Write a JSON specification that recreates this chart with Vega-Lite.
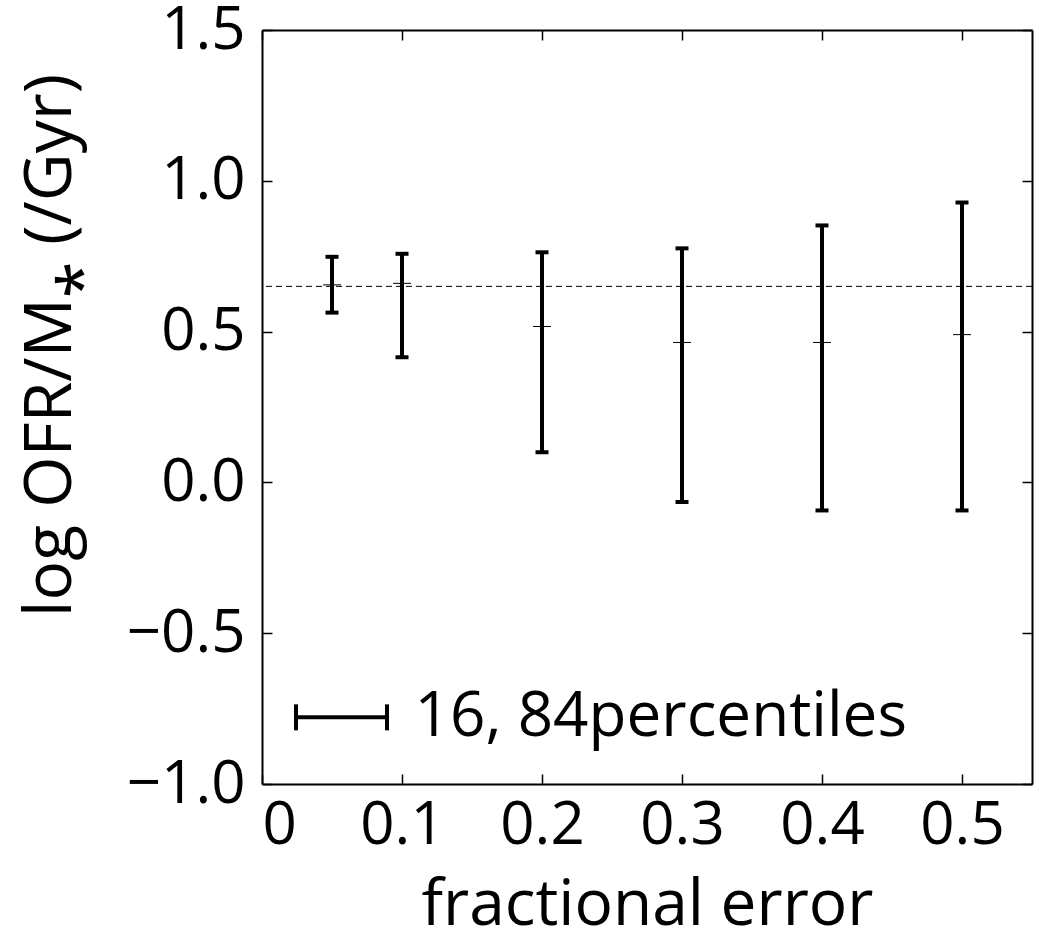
{
  "$schema": "https://vega.github.io/schema/vega-lite/v6.json",
  "width": 770,
  "height": 754,
  "autosize": "none",
  "padding": {"left": 262, "top": 30, "right": 7, "bottom": 159},
  "background": "white",
  "config": {
    "view": {"stroke": null},
    "font": "Open Sans",
    "tick": {"opacity": 1},
    "axis": {
      "grid": false,
      "domainColor": "black",
      "domainWidth": 2,
      "tickColor": "black",
      "tickWidth": 1.5,
      "tickSize": -10,
      "labelFont": "Open Sans",
      "labelFontSize": 60,
      "labelColor": "black",
      "labelOverlap": false,
      "titleFont": "Open Sans",
      "titleFontSize": 64,
      "titleFontWeight": "normal",
      "titleColor": "black"
    }
  },
  "datasets": {
    "bars": [
      {"err": 0.05, "lo": 0.563, "hi": 0.748, "med": 0.655},
      {"err": 0.1, "lo": 0.415, "hi": 0.758, "med": 0.66},
      {"err": 0.2, "lo": 0.1, "hi": 0.763, "med": 0.517},
      {"err": 0.3, "lo": -0.065, "hi": 0.776, "med": 0.464},
      {"err": 0.4, "lo": -0.093, "hi": 0.852, "med": 0.464},
      {"err": 0.5, "lo": -0.093, "hi": 0.928, "med": 0.49}
    ],
    "legend": [
      {"x1": 0.0243, "x2": 0.0893, "y": -0.779, "tx": 0.109, "label": "16, 84percentiles"}
    ],
    "ref": [{"y": 0.65}]
  },
  "layer": [
    {
      "layer": [
        {
          "data": {"name": "ref"},
          "mark": {"type": "rule", "color": "black", "strokeWidth": 1, "strokeDash": [6, 4]},
          "encoding": {
            "y": {"field": "y", "type": "quantitative", "scale": {"domain": [-1, 1.5], "nice": false, "zero": false},
              "axis": {"orient": "left", "values": [-1, -0.5, 0, 0.5, 1, 1.5], "format": ".1f", "labelPadding": 27, "title": "log OFR/M⁎ (/Gyr)", "titleFontSize": 66, "titlePadding": 42, "titleY": 315}}
          }
        },
        {
          "data": {"name": "bars"},
          "mark": {"type": "rule", "color": "black", "strokeWidth": 4},
          "encoding": {
            "x": {"field": "err", "type": "quantitative", "scale": {"domain": [0, 0.55], "nice": false, "zero": false},
              "axis": {"orient": "bottom", "values": [0, 0.1, 0.2, 0.3, 0.4, 0.5], "labelExpr": "datum.value == 0 ? '0' : format(datum.value, '.1f')", "labelPadding": 22, "title": "fractional error", "titlePadding": 18}},
            "y": {"field": "lo", "type": "quantitative"},
            "y2": {"field": "hi"}
          }
        },
        {
          "data": {"name": "bars"},
          "mark": {"type": "tick", "color": "black", "orient": "horizontal", "size": 13, "thickness": 4, "opacity": 1},
          "encoding": {
            "x": {"field": "err", "type": "quantitative"},
            "y": {"field": "lo", "type": "quantitative"}
          }
        },
        {
          "data": {"name": "bars"},
          "mark": {"type": "tick", "color": "black", "orient": "horizontal", "size": 13, "thickness": 4, "opacity": 1},
          "encoding": {
            "x": {"field": "err", "type": "quantitative"},
            "y": {"field": "hi", "type": "quantitative"}
          }
        },
        {
          "data": {"name": "bars"},
          "mark": {"type": "tick", "color": "black", "orient": "horizontal", "size": 18, "thickness": 1, "opacity": 1},
          "encoding": {
            "x": {"field": "err", "type": "quantitative"},
            "y": {"field": "med", "type": "quantitative"}
          }
        },
        {
          "data": {"name": "legend"},
          "mark": {"type": "rule", "color": "black", "strokeWidth": 4},
          "encoding": {
            "x": {"field": "x1", "type": "quantitative"},
            "x2": {"field": "x2"},
            "y": {"field": "y", "type": "quantitative"}
          }
        },
        {
          "data": {"name": "legend"},
          "mark": {"type": "tick", "color": "black", "orient": "vertical", "size": 26, "thickness": 4, "opacity": 1},
          "encoding": {
            "x": {"field": "x1", "type": "quantitative"},
            "y": {"field": "y", "type": "quantitative"}
          }
        },
        {
          "data": {"name": "legend"},
          "mark": {"type": "tick", "color": "black", "orient": "vertical", "size": 26, "thickness": 4, "opacity": 1},
          "encoding": {
            "x": {"field": "x2", "type": "quantitative"},
            "y": {"field": "y", "type": "quantitative"}
          }
        },
        {
          "data": {"name": "legend"},
          "mark": {"type": "text", "color": "black", "align": "left", "baseline": "middle", "fontSize": 62, "font": "Open Sans"},
          "encoding": {
            "x": {"field": "tx", "type": "quantitative"},
            "y": {"field": "y", "type": "quantitative"},
            "text": {"field": "label"}
          }
        }
      ]
    },
    {
      "data": {"name": "ref"},
      "mark": {"type": "rule", "opacity": 0},
      "encoding": {
        "x": {"datum": 0, "type": "quantitative", "axis": {"orient": "top", "values": [0, 0.1, 0.2, 0.3, 0.4, 0.5], "labels": false, "title": null}},
        "y": {"field": "y", "type": "quantitative", "axis": {"orient": "right", "values": [-1, -0.5, 0, 0.5, 1, 1.5], "labels": false, "title": null}}
      }
    }
  ],
  "resolve": {"axis": {"x": "independent", "y": "independent"}}
}
